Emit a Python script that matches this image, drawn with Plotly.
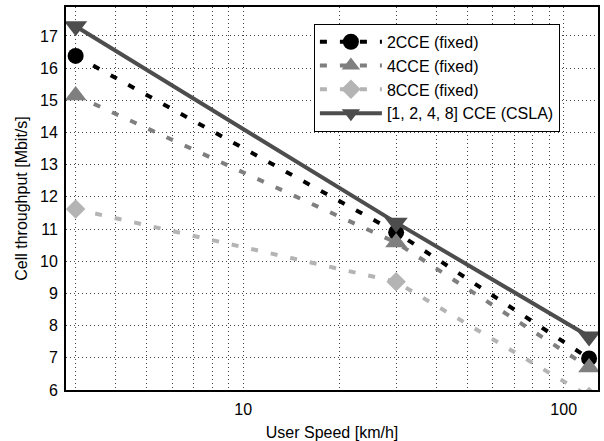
import plotly.graph_objects as go

speeds = [3, 30, 120]
cce2 = [16.38, 10.9, 6.98]
cce4 = [15.15, 10.58, 6.7]
cce8 = [11.62, 9.36, 5.8]
csla = [17.3, 11.2, 7.66]

names = ["2CCE (fixed)", "4CCE (fixed)", "8CCE (fixed)", "[1, 2, 4, 8] CCE (CSLA)"]

x_tickvals = [3, 4, 5, 6, 7, 8, 9, 10, 20, 30, 40, 50, 60, 70, 80, 90, 100]
x_ticktext = ["", "", "", "", "", "", "", "10", "", "", "", "", "", "", "", "", "100"]
y_tickvals = [6, 7, 8, 9, 10, 11, 12, 13, 14, 15, 16, 17]

FONT = "Liberation Sans, Arial, sans-serif"

fig = go.Figure()
styles = [
    (cce2, "#000000", "circle", 16, "7px,13px", 4),
    (cce4, "#7f7f7f", "triangle-up", 19, "7px,13px", 4),
    (cce8, "#b4b4b4", "diamond", 15, "7px,13px", 4),
    (csla, "#4d4d4d", "triangle-down", 20, "solid", 4),
]
for (ys, col, sym, sz, dash, w), nm in zip(styles, names):
    fig.add_trace(go.Scatter(
        x=speeds, y=ys, name=nm, mode="lines+markers",
        line=dict(color=col, width=w, dash=dash),
        marker=dict(color=col, symbol=sym, size=sz, line=dict(width=0)),
    ))

axis_common = dict(
    showline=True, linecolor="black", linewidth=2, mirror=True,
    showgrid=True, gridcolor="#444444", gridwidth=1, griddash="1px,3px",
    zeroline=False, ticks="", automargin=False,
    tickfont=dict(family=FONT, size=16, color="black"),
)
fig.update_xaxes(
    type="log", range=[0.447, 2.107], tickvals=x_tickvals, ticktext=x_ticktext,
    title=dict(text="User Speed [km/h]", font=dict(family=FONT, size=16, color="black"), standoff=10),
    ticklabelstandoff=4, **axis_common,
)
fig.update_yaxes(
    range=[6, 17.9], tickvals=y_tickvals,
    title=dict(text="Cell throughput [Mbit/s]", font=dict(family=FONT, size=16, color="black"), standoff=8),
    ticklabelstandoff=3, **axis_common,
)
fig.update_layout(
    width=604, height=441,
    margin=dict(l=66, r=6, t=7, b=51),
    paper_bgcolor="white", plot_bgcolor="white",
    font=dict(family=FONT, size=16, color="black"),
    legend=dict(
        x=0.466, y=0.956, xanchor="left", yanchor="top",
        bgcolor="white", bordercolor="black", borderwidth=1,
        itemwidth=62, font=dict(family=FONT, size=16),
    ),
    showlegend=True,
)
fig.write_html("out.html", config={"displayModeBar": False},
               post_script="document.body.style.margin='0';")
